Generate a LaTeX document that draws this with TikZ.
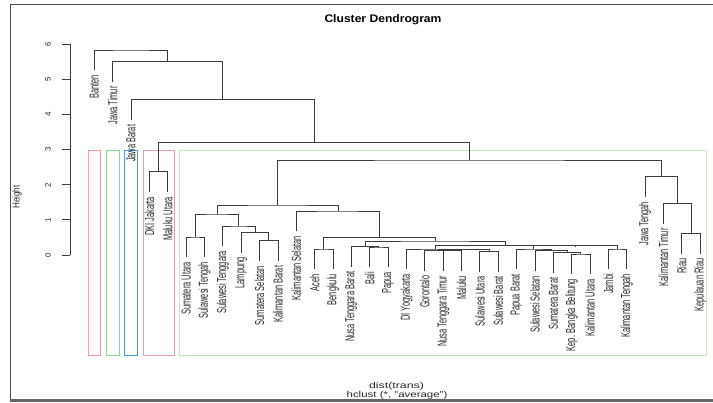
\documentclass[tikz,border=0pt]{standalone}
\usepackage{fontspec}
\setmainfont{Liberation Sans}
\definecolor{dgray}{HTML}{3C3C3C}
\definecolor{rpink}{HTML}{F09AAA}
\definecolor{rgreen}{HTML}{8CD98C}
\definecolor{rlgreen}{HTML}{C4EDBE}
\definecolor{rblue}{HTML}{3FA0E0}
\newcommand\lb[1]{\scalebox{0.57}[1]{#1}}
\begin{document}
\begin{tikzpicture}[x=1pt,y=-1pt,
  dl/.style={draw=dgray,line width=0.8pt},
  lab/.style={rotate=90,anchor=east,inner sep=0pt,font=\fontsize{13}{13}\selectfont,text=black!85},
  tick/.style={rotate=90,inner sep=0pt,font=\fontsize{8}{8}\selectfont,text=black!85},
  box/.style={line width=0.8pt}]
\useasboundingbox (0,0) rectangle (713,403);
% frame
\draw[black!70,line width=0.8pt] (10,400) -- (10,4.7) -- (713,4.7);
\draw[black!60,line width=3pt] (10,401) -- (713,401);
% title and axis labels
\node[font=\fontsize{11}{11}\selectfont\bfseries] (title) at (383,20) {\scalebox{1.1}[1]{Cluster Dendrogram}};
\node[rotate=90,font=\fontsize{10}{10}\selectfont,text=black!85] (ylab) at (17,197) {\scalebox{0.8}[1]{Height}};
\node[font=\fontsize{8.5}{8.5}\selectfont,text=black!85] (xlab1) at (396.5,386.5) {\scalebox{1.45}[1]{dist(trans)}};
\node[font=\fontsize{8.5}{8.5}\selectfont,text=black!85] (xlab2) at (397,395.3) {\scalebox{1.35}[1]{hclust (*, "average")}};
% y axis
\coordinate (ax0) at (70,255);
\coordinate (ax6) at (70,44.4);
\draw[dgray,line width=0.8pt] (ax0) -- (ax6);
\foreach \v in {0,...,6}{
  \coordinate (tk\v) at (70,{255-35.1*\v});
  \coordinate (tke\v) at (62,{255-35.1*\v});
  \draw[dgray,line width=0.8pt] (tk\v) -- (tke\v);
  \node[tick] (tl\v) at (48,{255-35.1*\v}) {\v};
}
% cluster rectangles
\draw[box,rpink] (88.0,150) rectangle (100.6,355);
\draw[box,rgreen] (106.4,150) rectangle (119.0,355);
\draw[box,rblue] (124.7,150) rectangle (137.3,355);
\draw[box,rpink] (143.1,150) rectangle (174.0,355);
\draw[box,rlgreen] (179.8,150) rectangle (706.5,355);
% leaves
\foreach \i/\ty/\nm in {1/70.5/Banten,2/81.8/Jawa Timur,3/120.2/Jawa Barat,4/192.2/DKI Jakarta,5/192.2/Maluku Utara,
  6/257.5/Sumatera Utara,7/257.5/Sulawesi Tengah,8/246.5/Sulawesi Tenggara,9/252.8/Lampung,10/261.2/Sumatera Selatan,
  11/261.2/Kalimantan Barat,12/231.5/Kalimantan Selatan,13/269.5/Aceh,14/269.5/Bengkulu,15/267.1/Nusa Tenggara Barat,
  16/267.5/Bali,17/267.5/Papua,18/269.5/DI Yogyakarta,19/270.7/Gorontalo,20/271.3/Nusa Tenggara Timur,21/271.3/Maluku,
  22/271.6/Sulawesi Utara,23/271.6/Sulawesi Barat,24/269.5/Papua Barat,25/271.2/Sulawesi Selatan,26/272.8/Sumatera Barat,
  27/274.5/Kep. Bangka Belitung,28/274.5/Kalimantan Utara,29/269.5/Jambi,30/269.5/Kalimantan Tengah,31/197.2/Jawa Tengah,
  32/223.8/Kalimantan Timur,33/253.8/Riau,34/253.8/Kepulauan Riau}{
  \coordinate (L\i) at ({94.3+(\i-1)*18.36},\ty);
  \node[lab] (T\i) at ({94.3+(\i-1)*18.36},{\ty+4.5}) {\lb{\nm}};
}
% merges
\coordinate (ma) at (580.84,254);
\coordinate (mb) at (567.07,252.3);
\coordinate (mc) at (551.0,250.7);
\coordinate (md) at (533.79,249);
\coordinate (me) at (617.56,249);
\coordinate (mf) at (575.68,245.9);
\coordinate (mg) at (452.32,250.8);
\coordinate (mh) at (438.55,250.2);
\coordinate (mi) at (489.04,251.1);
\coordinate (mj) at (463.8,249.6);
\coordinate (mk) at (435.11,249.0);
\coordinate (ml) at (505.4,245.6);
\coordinate (mm) at (378.88,247.0);
\coordinate (mn) at (365.11,246.6);
\coordinate (mo) at (435.26,241.0);
\coordinate (mp) at (323.8,249.0);
\coordinate (mq) at (379.53,237.5);
\coordinate (mr) at (337.9,211);
\coordinate (ms) at (195.28,237);
\coordinate (mt) at (268.72,240.7);
\coordinate (mu) at (254.95,232.3);
\coordinate (mv) at (238.89,226);
\coordinate (mw) at (217.08,214);
\coordinate (mx) at (277.49,205);
\coordinate (my) at (691.0,233.3);
\coordinate (mz) at (677.23,203.3);
\coordinate (mA) at (661.17,176.7);
\coordinate (mB) at (469.33,160);
\coordinate (mC) at (158.56,171.7);
\coordinate (mD) at (313.95,142.3);
\coordinate (mE) at (222.48,99.7);
\coordinate (mF) at (167.57,61.3);
\coordinate (mG) at (130.94,50);
\draw[dl] (L27) |- (ma) -| (L28);
\draw[dl] (L26) |- (mb) -| (ma);
\draw[dl] (L25) |- (mc) -| (mb);
\draw[dl] (L24) |- (md) -| (mc);
\draw[dl] (L29) |- (me) -| (L30);
\draw[dl] (md) |- (mf) -| (me);
\draw[dl] (L20) |- (mg) -| (L21);
\draw[dl] (L19) |- (mh) -| (mg);
\draw[dl] (L22) |- (mi) -| (L23);
\draw[dl] (mh) |- (mj) -| (mi);
\draw[dl] (L18) |- (mk) -| (mj);
\draw[dl] (mk) |- (ml) -| (mf);
\draw[dl] (L16) |- (mm) -| (L17);
\draw[dl] (L15) |- (mn) -| (mm);
\draw[dl] (mn) |- (mo) -| (ml);
\draw[dl] (L13) |- (mp) -| (L14);
\draw[dl] (mp) |- (mq) -| (mo);
\draw[dl] (L12) |- (mr) -| (mq);
\draw[dl] (L6) |- (ms) -| (L7);
\draw[dl] (L10) |- (mt) -| (L11);
\draw[dl] (L9) |- (mu) -| (mt);
\draw[dl] (L8) |- (mv) -| (mu);
\draw[dl] (ms) |- (mw) -| (mv);
\draw[dl] (mw) |- (mx) -| (mr);
\draw[dl] (L33) |- (my) -| (L34);
\draw[dl] (L32) |- (mz) -| (my);
\draw[dl] (L31) |- (mA) -| (mz);
\draw[dl] (mx) |- (mB) -| (mA);
\draw[dl] (L4) |- (mC) -| (L5);
\draw[dl] (mC) |- (mD) -| (mB);
\draw[dl] (L3) |- (mE) -| (mD);
\draw[dl] (L2) |- (mF) -| (mE);
\draw[dl] (L1) |- (mG) -| (mF);
\end{tikzpicture}
\end{document}
